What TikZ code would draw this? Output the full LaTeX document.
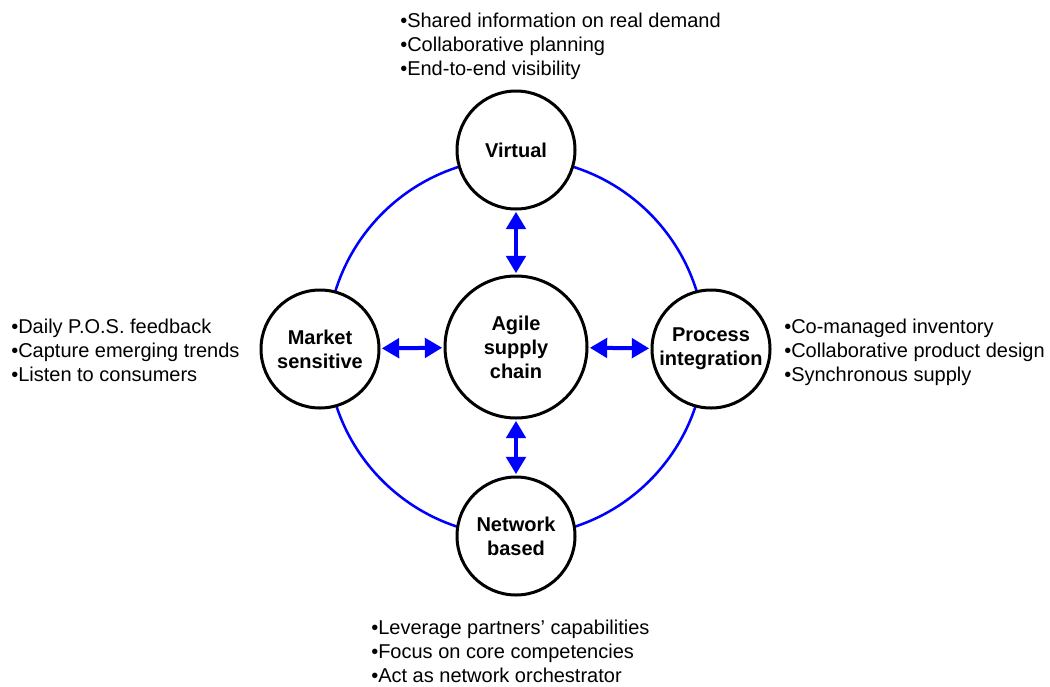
\documentclass[tikz,border=0pt]{standalone}
\usepackage{fontspec}
\setmainfont{Liberation Sans}
\usetikzlibrary{arrows.meta}

\tikzset{
  disc/.style={circle, draw=black, line width=2.25pt, fill=white, minimum size=88.5pt,
    inner sep=0pt, align=center, font=\bfseries\fontsize{15}{18}\selectfont},
  hubdisc/.style={disc, minimum size=106.5pt},
  link/.style={blue, line width=3pt,
    {Triangle[width=14.5pt,length=13pt]}-{Triangle[width=14.5pt,length=13pt]},
    shorten <=1pt, shorten >=1pt},
  notes/.style={align=left, anchor=west, inner sep=0pt, font=\fontsize{15}{18}\selectfont},
}

\begin{document}
\begin{tikzpicture}[x=0.75pt, y=-0.75pt]
            \useasboundingbox (0,0) rectangle (1050,686);

            \coordinate (ring) at (516,347);
            \draw[blue, line width=1.9pt] (ring) circle [radius=141.75pt];

            \node[hubdisc] (hub) at (516,347) {Agile\\supply\\chain};
            \node[disc] (virt) at (516,150) {Virtual};
            \node[disc] (mkt) at (320,349) {Market\\sensitive};
            \node[disc] (proc) at (711,349) {Process\\integration};
            \node[disc] (net) at (516,536) {Network\\based};

            \draw[link] (virt) to (hub);
            \draw[link] (mkt) to (hub);
            \draw[link] (proc) to (hub);
            \draw[link] (net) to (hub);

            \node[notes] (tvirt) at (400,46) {•Shared information on real demand\\•Collaborative planning\\•End-to-end visibility};
            \node[notes] (tmkt) at (11,350) {•Daily P.O.S. feedback\\•Capture emerging trends\\•Listen to consumers};
            \node[notes] (tproc) at (784,352) {•Co-managed inventory\\•Collaborative product design\\•Synchronous supply};
            \node[notes] (tnet) at (371,651) {•Leverage partners’ capabilities\\•Focus on core competencies\\•Act as network orchestrator};
        \end{tikzpicture}
\end{document}
